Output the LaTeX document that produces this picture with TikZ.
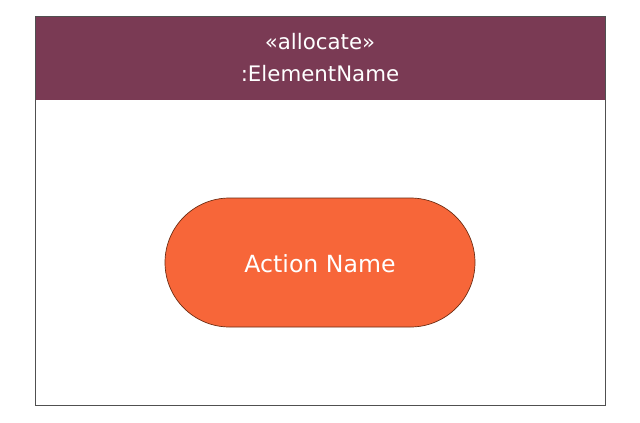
\documentclass[tikz,border=0pt]{standalone}
\usepackage{fontspec}
\setmainfont{DejaVu Sans}
\definecolor{hdr}{HTML}{7A3A54}
\definecolor{act}{HTML}{F76639}
\definecolor{actline}{HTML}{6B2A10}
\definecolor{frameline}{HTML}{505050}
\tikzset{
  px/.style={x=0.75pt,y=-0.75pt},
  header/.style={fill=hdr,draw=none},
  framebox/.style={draw=frameline,line width=0.6pt},
  action/.style={fill=act,draw=actline,line width=0.5pt,rounded corners=48.4pt},
  wtext/.style={text=white,inner sep=0pt}
}
\begin{document}
\begin{tikzpicture}[px]
\useasboundingbox (0,0) rectangle (640,422);
\fill[white] (0,0) rectangle (640,422);
\path[header] (35,16) rectangle (605,100);
\draw[framebox] (35,16) rectangle (605,405);
\node[wtext,font=\fontsize{16}{19}\selectfont] (stereo) at (320,42) {«allocate»};
\node[wtext,font=\fontsize{16}{19}\selectfont] (ename) at (320,74) {:ElementName};
\draw[action] (165,198) rectangle (475,327);
\node[wtext,font=\fontsize{17.7}{21}\selectfont] (aname) at (320,264) {Action Name};
\end{tikzpicture}
\end{document}
